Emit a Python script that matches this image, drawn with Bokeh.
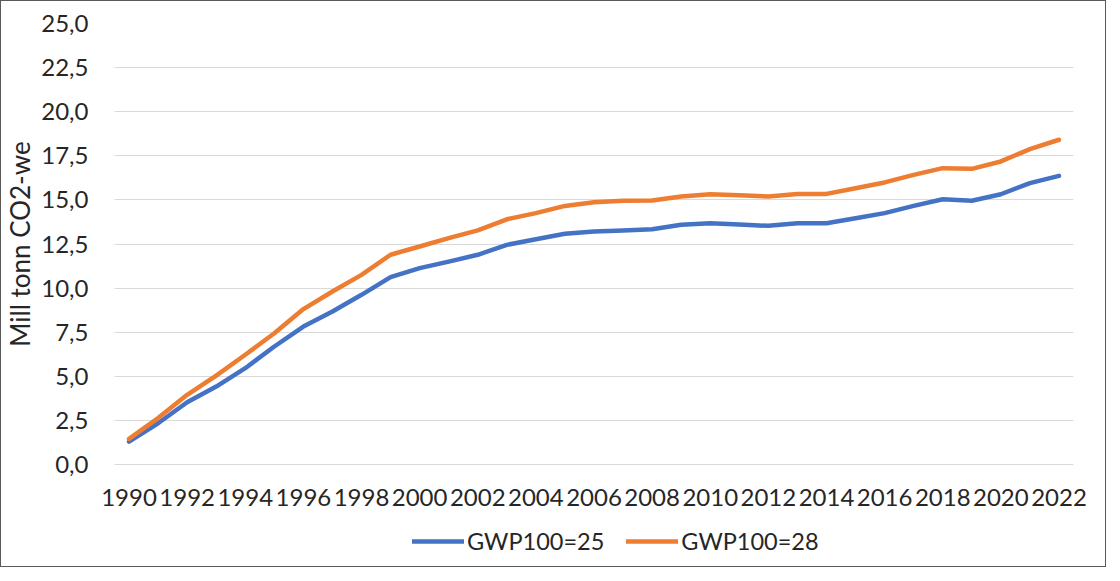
from bokeh.plotting import figure
from bokeh.layouts import column
from bokeh.models import Range1d, FixedTicker, CustomJSTickFormatter, Legend, LegendItem
from bokeh.embed import file_html
from bokeh.resources import INLINE

years = list(range(1990, 2023))
gwp25 = [1.30, 2.34, 3.53, 4.42, 5.46, 6.69, 7.82, 8.67, 9.62, 10.62,
         11.13, 11.50, 11.89, 12.45, 12.77, 13.08, 13.21, 13.27, 13.34, 13.59,
         13.68, 13.60, 13.53, 13.68, 13.68, 13.96, 14.25, 14.66, 15.04, 14.95,
         15.32, 15.95, 16.36]
gwp28 = [1.45, 2.63, 3.95, 5.04, 6.22, 7.44, 8.81, 9.81, 10.75, 11.89,
         12.36, 12.83, 13.27, 13.90, 14.25, 14.66, 14.87, 14.95, 14.97, 15.19,
         15.32, 15.26, 15.19, 15.34, 15.34, 15.66, 15.99, 16.42, 16.80, 16.76,
         17.18, 17.88, 18.41]
series_names = ["GWP100=25", "GWP100=28"]
series_colors = ["#4472C4", "#ED7D31"]
y_ticks = [0, 2.5, 5, 7.5, 10, 12.5, 15, 17.5, 20, 22.5, 25]
x_ticks = list(range(1990, 2023, 2))
y_label = "Mill tonn CO2-we"

FONT = "Lato"
TXT = "#262626"
LW = 4.5

p = figure(width=1104, height=515, output_backend="svg", toolbar_location=None,
           x_range=Range1d(1989.5, 2022.5), y_range=Range1d(0, 25),
           min_border_left=113, min_border_right=32, min_border_top=22,
           min_border_bottom=52, outline_line_color=None)

for vals, col in zip([gwp25, gwp28], series_colors):
    p.line(years, vals, line_color=col, line_width=LW,
           line_join="round", line_cap="round")

p.xgrid.grid_line_color = None
p.ygrid.ticker = FixedTicker(ticks=y_ticks)
p.ygrid.grid_line_color = "#d9d9d9"
p.ygrid.grid_line_width = 1

p.yaxis.ticker = FixedTicker(ticks=y_ticks)
p.yaxis.formatter = CustomJSTickFormatter(code="return tick.toFixed(1).replace('.', ',');")
p.yaxis.axis_line_color = None
p.yaxis.major_tick_line_color = None
p.yaxis.minor_tick_line_color = None
p.yaxis.major_label_standoff = 20
p.yaxis.major_label_text_font = FONT
p.yaxis.major_label_text_font_size = "24px"
p.yaxis.major_label_text_color = TXT
p.yaxis.axis_label = y_label
p.yaxis.axis_label_text_font = FONT
p.yaxis.axis_label_text_font_size = "26px"
p.yaxis.axis_label_text_font_style = "normal"
p.yaxis.axis_label_text_color = TXT
p.yaxis.axis_label_standoff = 2

p.xaxis.ticker = FixedTicker(ticks=x_ticks)
p.xaxis.axis_line_color = "#d9d9d9"
p.xaxis.major_tick_line_color = None
p.xaxis.minor_tick_line_color = None
p.xaxis.major_label_standoff = 18
p.xaxis.major_label_text_font = FONT
p.xaxis.major_label_text_font_size = "24px"
p.xaxis.major_label_text_color = TXT

# legend strip below the chart (its own small figure, data kept out of view)
pl = figure(width=1104, height=50, output_backend="svg", toolbar_location=None,
            x_range=Range1d(0, 1), y_range=Range1d(0, 1),
            x_axis_location=None, y_axis_location=None,
            min_border=0, outline_line_color=None)
pl.grid.visible = False
items = []
for vals, col, name in zip([gwp25, gwp28], series_colors, series_names):
    r = pl.line(years, vals, line_color=col, line_width=LW, line_cap="round")
    items.append(LegendItem(label=name, renderers=[r]))
legend = Legend(items=items, orientation="horizontal", location=(298, 11),
                border_line_color=None, background_fill_alpha=0,
                glyph_width=52, glyph_height=24, label_standoff=3, spacing=22,
                padding=5, margin=0,
                label_text_font=FONT, label_text_font_size="23.5px",
                label_text_color=TXT)
pl.add_layout(legend, "center")

layout = column(p, pl, spacing=0)
layout.styles = {"border": "1px solid #595959"}

open("out.html", "w").write(file_html(layout, INLINE))
